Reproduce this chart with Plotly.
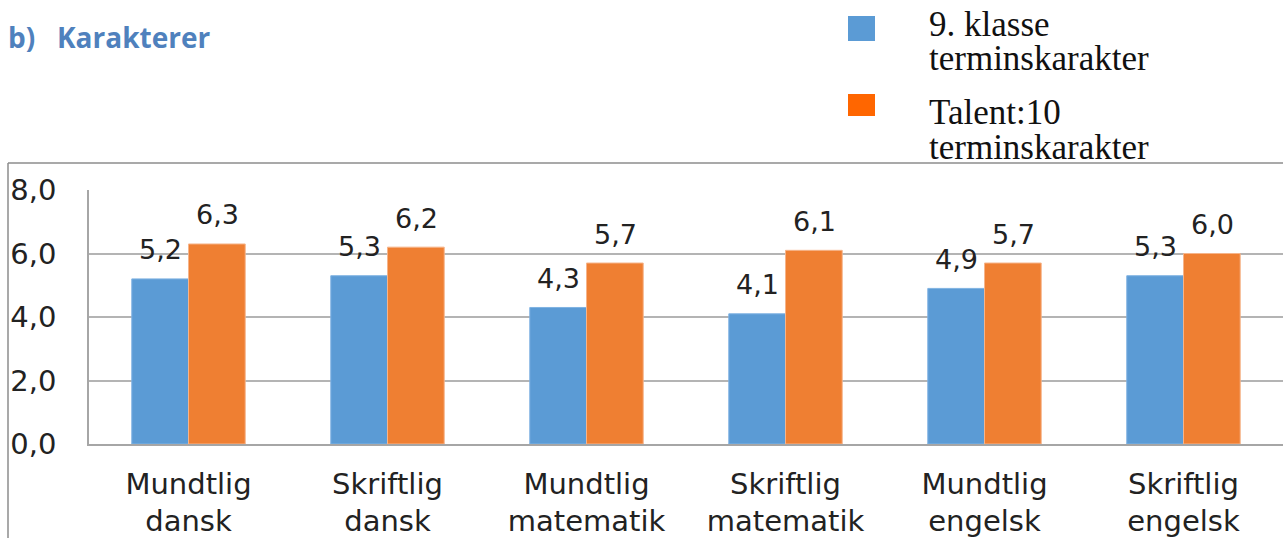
import plotly.graph_objects as go

categories = ["Mundtlig<br>dansk", "Skriftlig<br>dansk", "Mundtlig<br>matematik",
              "Skriftlig<br>matematik", "Mundtlig<br>engelsk", "Skriftlig<br>engelsk"]
series_names = ["9. klasse<br>terminskarakter", "Talent:10<br>terminskarakter"]
klasse9 = [5.2, 5.3, 4.3, 4.1, 4.9, 5.3]
talent10 = [6.3, 6.2, 5.7, 6.1, 5.7, 6.0]
y_ticks = [0, 2, 4, 6, 8]

W, H = 1283, 538
BLUE = "#5b9bd5"
ORANGE = "#ef7f32"
TICK_FONT = dict(family="DejaVu Sans", size=29, color="#222222")

fig = go.Figure()
fig.add_trace(go.Bar(x=categories, y=klasse9, name=series_names[0],
                     marker=dict(color=BLUE, line=dict(color="#7fb2e2", width=1))))
fig.add_trace(go.Bar(x=categories, y=talent10, name=series_names[1],
                     marker=dict(color=ORANGE, line=dict(color="#f6b48a", width=1))))

ann = []
for vals, shift in ((klasse9, -28.5), (talent10, 28.5)):
    for c, v in zip(categories, vals):
        ann.append(dict(x=c, y=v, xref="x", yref="y", text=f"{v:.1f}".replace(".", ","),
                        showarrow=False, xshift=shift, yshift=29, yanchor="middle",
                        font=dict(family="DejaVu Sans", size=27, color="#222222")))

# title
ann.append(dict(x=6 / W, y=1 - 37 / H, xref="paper", yref="paper", xanchor="left",
                yanchor="middle", showarrow=False,
                text="<b>b)   Karakterer</b>",
                font=dict(family="Open Sans", size=28, color="#4f81bd")))

# manual legend
shapes = []
leg_colors = [BLUE, "#ff6600"]
leg_boxes = [(16, 41), (94, 116)]
leg_line_y = [(25, 59), (113, 147)]
for name, col, (t, b), ly in zip(series_names, leg_colors, leg_boxes, leg_line_y):
    shapes.append(dict(type="rect", xref="paper", yref="paper",
                       x0=848 / W, x1=875 / W, y0=1 - b / H, y1=1 - t / H,
                       fillcolor=col, line=dict(width=0)))
    for ln, yy in zip(name.split("<br>"), ly):
        ann.append(dict(x=928 / W, y=1 - yy / H, xref="paper", yref="paper",
                        xanchor="left", yanchor="middle", showarrow=False, text=ln,
                        borderpad=0,
                        font=dict(family="Liberation Serif", size=35, color="#111111")))

# outer chart border (top and left)
shapes.append(dict(type="line", xref="paper", yref="paper", x0=8 / W, x1=1, y0=1 - 163 / H,
                   y1=1 - 163 / H, line=dict(color="#8c8c8c", width=1.5)))
shapes.append(dict(type="line", xref="paper", yref="paper", x0=8 / W, x1=8 / W, y0=0,
                   y1=1 - 163 / H, line=dict(color="#8c8c8c", width=1.5)))

fig.update_layout(
    width=W, height=H,
    margin=dict(l=0, r=0, t=0, b=0, pad=0),
    paper_bgcolor="white", plot_bgcolor="white",
    barmode="group", bargap=0.43, bargroupgap=0,
    showlegend=False,
    separators=",.",
    annotations=ann, shapes=shapes,
    xaxis=dict(domain=[89 / W, 1], tickfont=dict(family="DejaVu Sans", size=29, color="#222222"),
               showline=True, linecolor="#a6a6a6", linewidth=1.5, ticks="",
               showgrid=False, automargin=False, ticklabelstandoff=13),
    yaxis=dict(domain=[1 - 444 / H, 1 - 190 / H], range=[0, 8], tickvals=y_ticks,
               tickformat=".1f", tickfont=TICK_FONT, showgrid=True, gridcolor="#b4b4b4",
               gridwidth=1.5, zeroline=False, showline=True, linecolor="#a6a6a6",
               linewidth=1.5, ticks="", ticklabelstandoff=25, automargin=False),
)

fig.write_html("out.html", config={"displayModeBar": False},
               post_script="document.body.style.margin='0';")
